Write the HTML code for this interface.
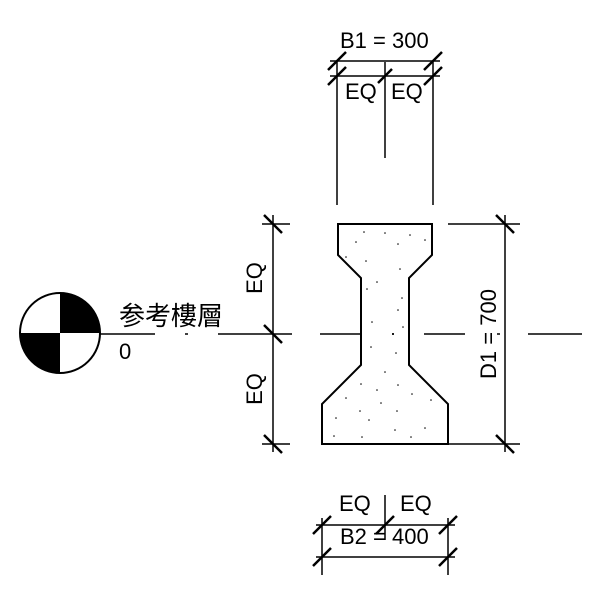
<!DOCTYPE html>
<html><head><style>body{margin:0;background:#fff}</style></head><body>
<svg width="600" height="600" xmlns="http://www.w3.org/2000/svg" font-family="Liberation Sans, Noto Sans CJK TC, sans-serif">
<rect width="600" height="600" fill="#fff"/>
<g stroke="#000" stroke-width="1.5" fill="none">
<polygon points="338,224 432,224 432,255 409,278 409,365 448,404 448,444 322,444 322,404 361,365 361,278 338,255" stroke-width="2"/>
<line x1="337" y1="62" x2="337" y2="205"/><line x1="433" y1="62" x2="433" y2="205"/>
<line x1="385" y1="62" x2="385" y2="158"/>
<line x1="330" y1="61" x2="440" y2="61"/><line x1="330" y1="76" x2="440" y2="76"/>
<g stroke-width="2.5">
<line x1="328" y1="70" x2="346" y2="52"/><line x1="328" y1="85" x2="346" y2="67"/>
<line x1="424" y1="70" x2="442" y2="52"/><line x1="424" y1="85" x2="442" y2="67"/>
<line x1="378" y1="83" x2="392" y2="69"/>
</g>
<line x1="273" y1="215" x2="273" y2="452"/>
<line x1="262" y1="224" x2="290" y2="224"/><line x1="262" y1="444" x2="290" y2="444"/>
<g stroke-width="2.5">
<line x1="264" y1="215" x2="282" y2="233"/><line x1="264" y1="325" x2="282" y2="343"/><line x1="264" y1="435" x2="282" y2="453"/>
</g>
<line x1="448" y1="224" x2="520" y2="224"/><line x1="448" y1="444" x2="520" y2="444"/>
<line x1="505" y1="215" x2="505" y2="452"/>
<g stroke-width="2.5"><line x1="496" y1="215" x2="514" y2="233"/><line x1="496" y1="435" x2="514" y2="453"/></g>
<line x1="100" y1="334" x2="155" y2="334"/><line x1="185" y1="334" x2="188" y2="334"/>
<line x1="218" y1="334" x2="292" y2="334"/><line x1="320" y1="334" x2="361" y2="334"/><line x1="392" y1="334" x2="394" y2="334"/>
<line x1="424" y1="334" x2="465" y2="334"/><line x1="497" y1="334" x2="500" y2="334"/>
<line x1="528" y1="334" x2="582" y2="334"/>
<line x1="322" y1="518" x2="322" y2="575"/><line x1="448" y1="518" x2="448" y2="575"/>
<line x1="385" y1="495" x2="385" y2="540"/>
<line x1="316" y1="525" x2="455" y2="525"/><line x1="316" y1="557" x2="455" y2="557"/>
<g stroke-width="2.5">
<line x1="313" y1="534" x2="331" y2="516"/><line x1="439" y1="534" x2="457" y2="516"/>
<line x1="376" y1="534" x2="394" y2="516"/>
<line x1="313" y1="566" x2="331" y2="548"/><line x1="439" y1="566" x2="457" y2="548"/>
</g>
<circle cx="60" cy="333" r="40" stroke-width="2"/>
</g>
<path d="M60,333 L60,293 A40,40 0 0 1 100,333 Z" fill="#000"/>
<path d="M60,333 L60,373 A40,40 0 0 1 20,333 Z" fill="#000"/>
<g fill="#000" font-size="22">
<text x="119" y="325" font-size="26">参考樓層</text>
<text x="119" y="359">0</text>
<text x="340" y="48">B1 = 300</text>
<text x="345" y="99">EQ</text><text x="391" y="99">EQ</text>
<text x="339" y="511">EQ</text><text x="400" y="511">EQ</text>
<text x="340" y="544">B2 = 400</text>
<text transform="translate(262,278) rotate(-90)" text-anchor="middle">EQ</text>
<text transform="translate(262,389) rotate(-90)" text-anchor="middle">EQ</text>
<text transform="translate(496,334) rotate(-90)" text-anchor="middle">D1 = 700</text>
</g>
<g fill="#000">
<circle cx="364" cy="232" r="0.8"/><circle cx="385" cy="233" r="0.8"/><circle cx="410" cy="235" r="0.8"/><circle cx="425" cy="240" r="0.8"/><circle cx="356" cy="242" r="0.8"/><circle cx="398" cy="244" r="0.8"/><circle cx="346" cy="257" r="0.8"/><circle cx="366" cy="261" r="0.8"/><circle cx="400" cy="269" r="0.8"/><circle cx="377" cy="282" r="0.8"/><circle cx="367" cy="289" r="0.8"/><circle cx="402" cy="298" r="0.8"/><circle cx="398" cy="310" r="0.8"/><circle cx="372" cy="322" r="0.8"/><circle cx="393" cy="334" r="1"/><circle cx="403" cy="327" r="0.8"/><circle cx="371" cy="347" r="0.8"/><circle cx="396" cy="353" r="0.8"/><circle cx="385" cy="372" r="0.8"/><circle cx="361" cy="384" r="0.8"/><circle cx="398" cy="385" r="0.8"/><circle cx="377" cy="390" r="0.8"/><circle cx="412" cy="394" r="0.8"/><circle cx="346" cy="398" r="0.8"/><circle cx="431" cy="400" r="0.8"/><circle cx="381" cy="403" r="0.8"/><circle cx="360" cy="411" r="0.8"/><circle cx="397" cy="411" r="0.8"/><circle cx="336" cy="418" r="0.8"/><circle cx="369" cy="420" r="0.8"/><circle cx="425" cy="428" r="0.8"/><circle cx="395" cy="430" r="0.8"/><circle cx="334" cy="436" r="0.8"/><circle cx="362" cy="437" r="0.8"/><circle cx="411" cy="437" r="0.8"/>
</g>
</svg>
</body></html>
